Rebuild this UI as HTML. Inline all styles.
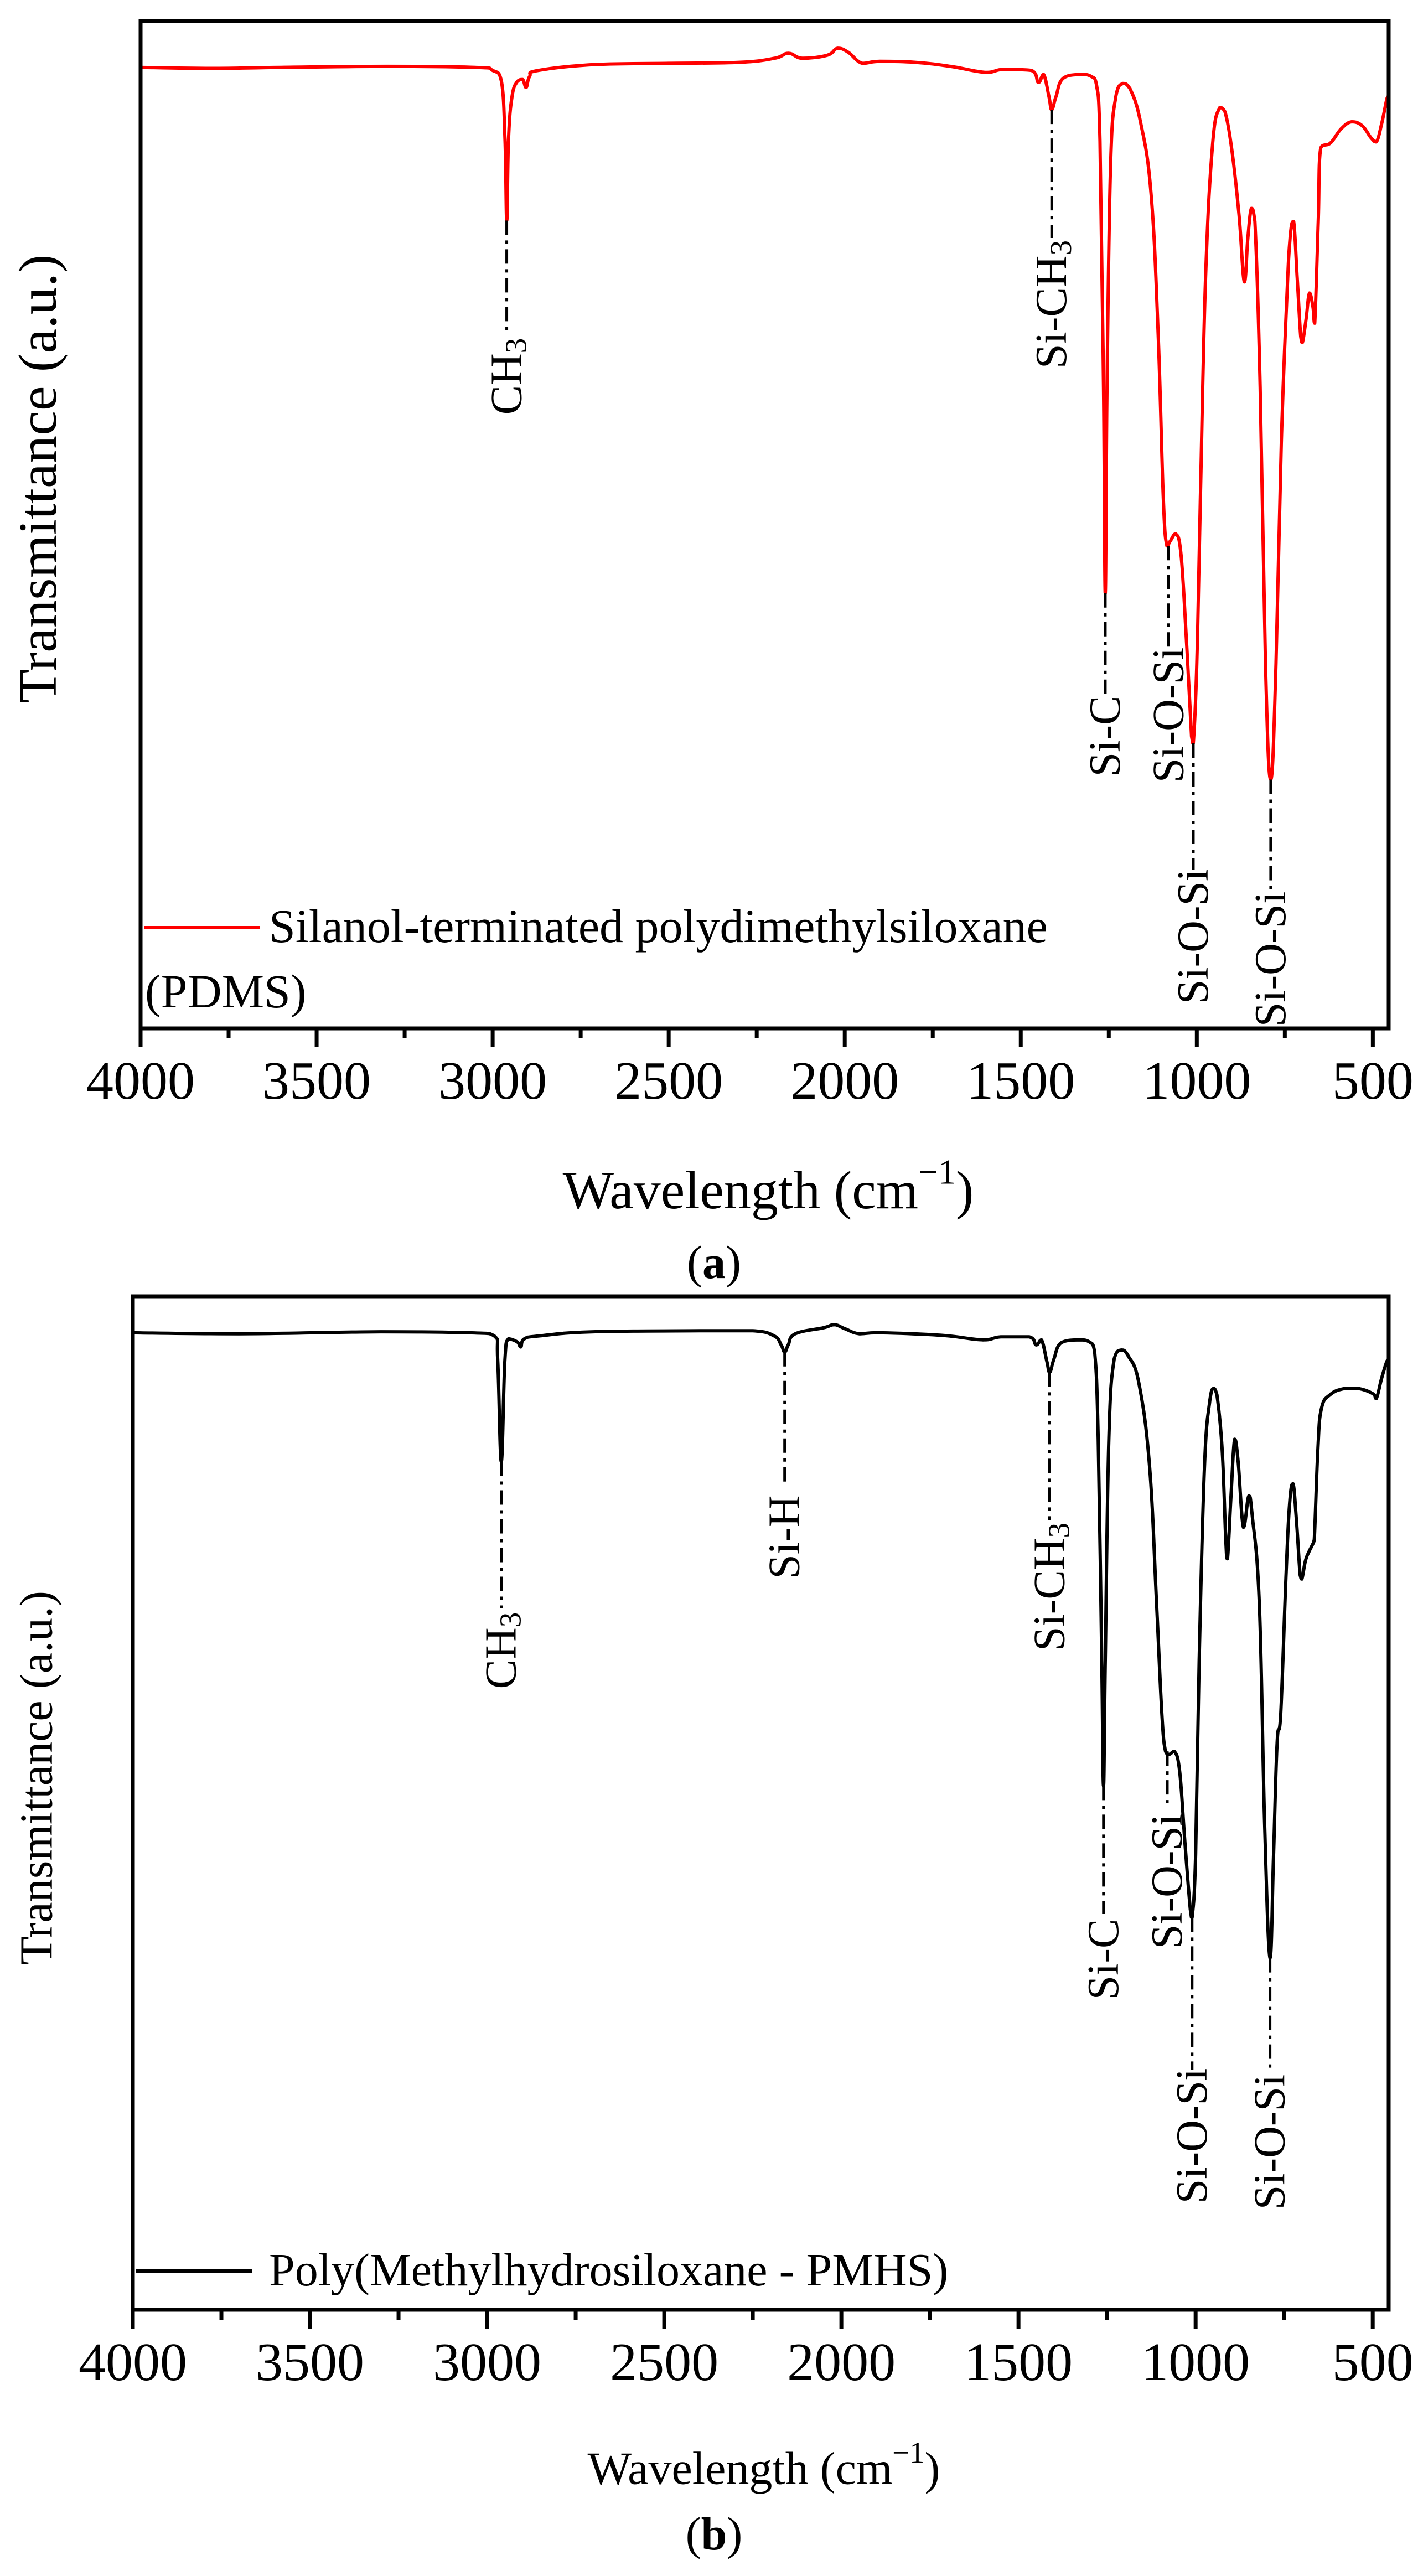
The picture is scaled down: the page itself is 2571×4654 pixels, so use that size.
<!DOCTYPE html>
<html><head><meta charset="utf-8"><style>
html,body{margin:0;padding:0;background:#fff;}
svg{display:block;}
svg text{font-family:"Liberation Serif","DejaVu Serif",serif;}
</style></head><body>
<svg id="fig" width="2571" height="4654" viewBox="0 0 2571 4654" xmlns="http://www.w3.org/2000/svg" font-family="Liberation Serif, DejaVu Serif, serif">
<rect width="2571" height="4654" fill="#fff"/>
</svg>
<script>
// ---- data: panel (a) PDMS spectrum [wavenumber], [transmittance a.u.]
const wnA = [4000,3800,3600,3300,3050,3000,2975,2965,2960,2955,2945,2930,2915,2905,2895,2870,2700,2500,2300,2200,2160,2120,2050,2020,1990,1950,1900,1800,1700,1600,1550,1470,1450,1435,1420,1412,1400,1380,1330,1300,1285,1275,1265,1260,1255,1245,1230,1210,1190,1160,1130,1110,1095,1085,1075,1060,1045,1030,1015,1010,1000,990,975,955,935,920,900,880,865,855,845,835,820,805,790,775,760,745,735,725,715,705,700,690,680,670,665,655,648,620,590,560,530,505,490,475,460,455];
const tA = [95.4,95.3,95.4,95.5,95.4,95.1,94.0,88.2,80.2,88.2,92.5,94.0,94.2,93.4,94.5,95.1,95.7,95.8,95.9,96.3,96.8,96.3,96.6,97.3,96.9,95.8,96.0,95.9,95.5,94.9,95.2,95.1,93.9,94.7,92.5,91.2,92.5,94.3,94.7,94.5,93.7,88.1,63.6,43.2,63.6,85.6,92.5,93.8,93.3,90.0,82.9,69.2,52.5,47.9,48.4,49.1,47.1,38.9,29.0,28.3,36.2,52.5,74.6,87.8,91.4,91.0,87.1,80.7,74.1,78.5,81.4,80.1,63.6,36.2,24.7,36.2,58.1,71.9,78.5,80.1,74.6,68.7,68.1,70.3,73.0,71.6,70.0,80.2,87.4,87.9,89.3,90.0,89.6,88.4,88.0,89.8,92.3,92.6];
// ---- data: panel (b) PMHS spectrum
const wnB = [4000,3700,3300,3050,2980,2970,2960,2950,2940,2915,2905,2895,2850,2700,2400,2250,2190,2170,2160,2150,2130,2050,2020,1990,1950,1900,1800,1700,1600,1550,1470,1450,1435,1420,1412,1400,1380,1330,1300,1285,1275,1265,1260,1255,1245,1230,1210,1190,1160,1130,1110,1095,1085,1075,1060,1045,1030,1015,1010,1000,990,975,960,950,940,925,915,910,900,890,880,865,850,840,820,805,790,780,770,760,745,735,725,715,705,700,690,680,670,665,655,645,620,580,540,500,490,475,460,455];
const tB = [96.4,96.3,96.5,96.4,96.1,93.6,83.7,93.6,95.8,95.5,95.0,95.8,96.1,96.5,96.6,96.6,96.1,95.2,94.5,95.2,96.3,96.9,97.2,96.8,96.3,96.4,96.3,96.1,95.7,96.0,96.0,95.2,95.7,93.6,92.5,93.8,95.4,95.7,95.5,94.5,85.9,64.1,51.7,64.1,85.9,93.8,94.7,94.1,91.4,83.2,69.5,58.6,55.1,54.8,55.1,53.1,46.0,39.5,38.7,44.9,64.1,83.2,89.7,90.9,90.3,84.8,76.0,74.1,80.4,85.9,83.7,77.2,80.3,78.3,69.5,47.7,34.7,44.9,55.9,58.6,72.3,79.4,81.5,77.7,72.5,72.1,73.9,74.8,75.5,76.0,84.8,88.9,90.3,90.9,90.9,90.4,89.9,91.9,93.6,93.8];
const xTicks = [4000,3500,3000,2500,2000,1500,1000,500];
const xMinor = [3750,3250,2750,2250,1750,1250,750];
// annotations: wavenumber, label parts
const annA = [[2960,"CH",'3'],[1412,"Si-CH",'3'],[1260,"Si-C",''],[1080,"Si-O-Si",''],[1010,"Si-O-Si",''],[790,"Si-O-Si",'']];
const annB = [[2960,"CH",'3'],[2160,"Si-H",''],[1412,"Si-CH",'3'],[1260,"Si-C",''],[1080,"Si-O-Si",''],[1010,"Si-O-Si",''],[790,"Si-O-Si",'']];
// label layout (pixel centers / line ends)
const annLayoutA = [[680,605],[550,430],[1330,1258],[1292,1175],[1692,1572],[1733,1610]];
const annLayoutB = [[2982,2905],[2777,2683],[2867,2747],[3540,3458],[3399,3258],[3859,3740],[3870,3740]];

const NS="http://www.w3.org/2000/svg";
const FONT="Liberation Serif, DejaVu Serif, serif";
const svg=document.getElementById('fig');
function el(tag,attrs,parent){const e=document.createElementNS(NS,tag);for(const k in attrs)e.setAttribute(k,attrs[k]);if(tag==='text')e.setAttribute('font-family',FONT);(parent||svg).appendChild(e);return e;}

function smoothPath(pts){
  let d='M'+pts[0][0].toFixed(1)+','+pts[0][1].toFixed(1);
  for(let i=0;i<pts.length-1;i++){
    const p0=pts[Math.max(0,i-1)],p1=pts[i],p2=pts[i+1],p3=pts[Math.min(pts.length-1,i+2)];
    const t=0.2;
    let c1x=p1[0]+(p2[0]-p0[0])*t,c1y=p1[1]+(p2[1]-p0[1])*t;
    let c2x=p2[0]-(p3[0]-p1[0])*t,c2y=p2[1]-(p3[1]-p1[1])*t;
    // clamp control y within segment range to avoid overshoot
    const lo=Math.min(p1[1],p2[1]),hi=Math.max(p1[1],p2[1]);
    c1y=Math.min(hi,Math.max(lo,c1y));c2y=Math.min(hi,Math.max(lo,c2y));
    d+='C'+c1x.toFixed(1)+','+c1y.toFixed(1)+' '+c2x.toFixed(1)+','+c2y.toFixed(1)+' '+p2[0].toFixed(1)+','+p2[1].toFixed(1);
  }
  return d;
}

function panel(cfg){
  const g=el('g',{});
  
  
  const {L,R,T,B,xmax,xmin}=cfg;
  const xs=w=>L+(xmax-w)/(xmax-xmin)*(R-L);
  const ys=v=>B-v/100*(B-T);
  const pts=cfg.wn.map((w,i)=>[xs(w),ys(cfg.t[i])]);
  const p=el('path',{d:smoothPath(pts),fill:'none',stroke:cfg.color,'stroke-width':6,'stroke-linejoin':'round'},g);
  
  
  const fr=el('rect',{x:L,y:T,width:R-L,height:B-T,fill:'none',stroke:'#000','stroke-width':7},g);
  
  
  xTicks.forEach(v=>{
    const x=xs(v);
    const tk=el('line',{x1:x,x2:x,y1:B,y2:B+34,stroke:'#000','stroke-width':7},g);
    
    
    const tl=el('text',{x:x,y:cfg.tickY,'font-size':98,'text-anchor':'middle'},g);
    tl.textContent=v;
    
    
  });
  xMinor.forEach(v=>{
    const x=xs(v);
    const tk=el('line',{x1:x,x2:x,y1:B,y2:B+18,stroke:'#000','stroke-width':7},g);
    
    
  });
  cfg.ann.forEach((a,i)=>{
    const [w,lab,sub]=a;
    const [cy,lineEnd]=cfg.layout[i];
    let k=0;cfg.wn.forEach((q,ii)=>{if(Math.abs(q-w)<Math.abs(cfg.wn[k]-w))k=ii;});
    const yPeak=ys(cfg.t[k]);
    const x=xs(w);
    const ln=el('line',{x1:x,x2:x,y1:yPeak,y2:lineEnd,stroke:'#000','stroke-width':5,'stroke-dasharray':'26 10 6 10'},g);
    
    
    const tx=el('text',{x:x,y:cy,'font-size':80,'text-anchor':'middle','dominant-baseline':'central',transform:`rotate(-90 ${x} ${cy})`},g);
    
    
    tx.appendChild(document.createTextNode(lab));
    if(sub){const ts=el('tspan',{'font-size':55,dy:16},tx);ts.textContent=sub;}
  });
  const lg=el('line',{x1:L+6,x2:L+216,y1:cfg.legY,y2:cfg.legY,stroke:cfg.color,'stroke-width':6},g);
  
  
  const lt=el('text',{x:486,y:cfg.legY+26,'font-size':cfg.legFont},g);
  lt.textContent=cfg.legText;
  
  
  if(cfg.legText2){
    const lt2=el('text',{x:L+8,y:cfg.legY+144,'font-size':cfg.legFont},g);
    lt2.textContent=cfg.legText2;
    
    
  }
  const yt=el('text',{x:cfg.yTitleX,y:cfg.yTitleY,'font-size':cfg.yFont,'text-anchor':'middle','dominant-baseline':'central',textLength:cfg.yLen,lengthAdjust:'spacingAndGlyphs',transform:`rotate(-90 ${cfg.yTitleX} ${cfg.yTitleY})`},g);
  yt.textContent='Transmittance (a.u.)';
  
  
  const xt=el('text',{x:cfg.xTitleX,y:cfg.xTitleY,'font-size':cfg.yFont,'text-anchor':'middle','dominant-baseline':'central'},g);
  
  
  xt.appendChild(document.createTextNode('Wavelength (cm'));
  const sup=el('tspan',{'font-size':cfg.yFont*0.65,dy:-cfg.yFont*0.35},xt);sup.textContent='\u22121';
  const cl=el('tspan',{dy:cfg.yFont*0.35},xt);cl.textContent=')';
  const pl=el('text',{x:1290,y:cfg.letterY,'font-size':84,'text-anchor':'middle','dominant-baseline':'central'},g);
  
  
  pl.appendChild(document.createTextNode('('));
  const bl=el('tspan',{'font-weight':'bold'},pl);bl.textContent=cfg.letter;
  pl.appendChild(document.createTextNode(')'));
}

panel({name:'panel-a',L:254,R:2509,T:38,B:1858,xmax:4000,xmin:455,wn:wnA,t:tA,color:'#ff0000',seriesName:'pdms-spectrum',
  tickY:1985,ann:annA,layout:annLayoutA,legY:1676,legFont:86,legText:'Silanol-terminated polydimethylsiloxane',legText2:'(PDMS)',
  yTitleX:69,yTitleY:865,yFont:98,yLen:811,xTitleX:1388,xTitleY:2151,letterY:2281,letter:'a'});
panel({name:'panel-b',L:240,R:2509,T:2342,B:4173,xmax:4000,xmin:455,wn:wnB,t:tB,color:'#000000',seriesName:'pmhs-spectrum',
  tickY:4300,ann:annB,layout:annLayoutB,legY:4103,legFont:84,legText:'Poly(Methylhydrosiloxane - PMHS)',
  yTitleX:66,yTitleY:3212,yFont:84,yLen:676,xTitleX:1380,xTitleY:4460,letterY:4578,letter:'b'});
</script>
</body></html>
